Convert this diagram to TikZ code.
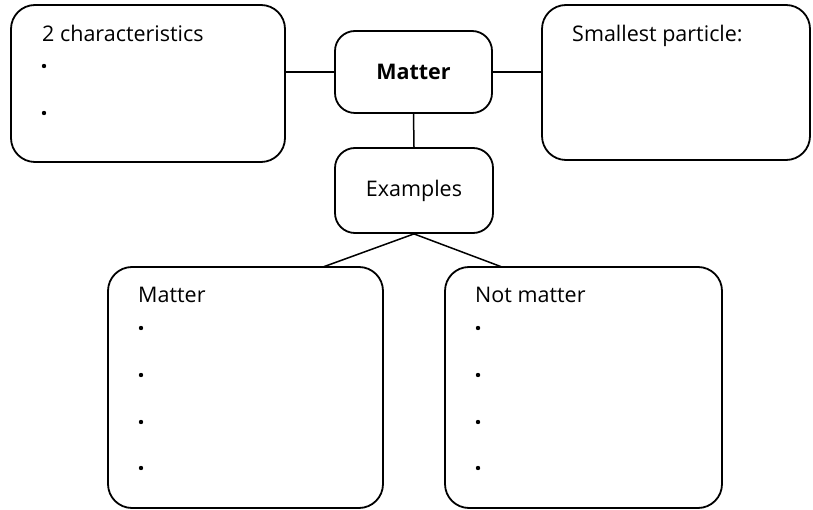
\documentclass[tikz,border=0pt]{standalone}
\usepackage{fontspec}
\setmainfont{Open Sans}
\usetikzlibrary{positioning}
\tikzstyle{caixa} = [rectangle, rounded corners=24pt, draw=black, line width=1.8pt, inner sep=0pt]
\tikzstyle{central} = [rectangle, rounded corners=20pt, draw=black, line width=1.8pt, inner sep=0pt, text centered]
\tikzstyle{rotulo} = [anchor=base west, inner sep=0pt]
\tikzstyle{linha} = [line width=1.5pt]

\begin{document}
\begin{tikzpicture}[x=1pt,y=-1pt,font=\fontsize{21.5}{26}\selectfont]
        \useasboundingbox (0,0) rectangle (813,510);
        % Nó principal
        \node (materia) [central, minimum width=157pt, minimum height=82pt] at (413.5,72) {\textbf{Matter}};
        \node (exemplos) [central, minimum width=158pt, minimum height=85pt] at (414,190.5) {Examples};
        % Caixas laterais
        \node (carac) [caixa, minimum width=274pt, minimum height=157pt] at (148,83.5) {};
        \node (particula) [caixa, minimum width=268pt, minimum height=155pt] at (676,82.5) {};
        % Caixas de exemplos
        \node (sim) [caixa, minimum width=275pt, minimum height=241pt] at (245.5,387.5) {};
        \node (nao) [caixa, minimum width=277pt, minimum height=241pt] at (583.5,387.5) {};
        % Títulos das caixas
        \node (tcarac) [rotulo] at (42,42) {2 characteristics};
        \node (tparticula) [rotulo] at (572,42) {Smallest particle:};
        \node (tsim) [rotulo] at (138,303) {Matter};
        \node (tnao) [rotulo] at (475,303) {Not matter};
        % Marcadores
        \foreach \y in {66,113} \fill (44,\y) circle (2.2pt);
        \foreach \y in {328,375,422,468} {
            \fill (141,\y) circle (2.2pt);
            \fill (478,\y) circle (2.2pt);
        }
        % Conexões
        \coordinate (simtopo) at (323,267);
        \coordinate (naotopo) at (502,267);
        \draw [linha] (materia.west) -- (materia.west -| carac.east);
        \draw [linha] (materia.east) -- (materia.east -| particula.west);
        \draw [linha] (materia.south) -- (exemplos.north);
        \draw [linha] (exemplos.south) -- (simtopo);
        \draw [linha] (exemplos.south) -- (naotopo);
    \end{tikzpicture}
\end{document}
